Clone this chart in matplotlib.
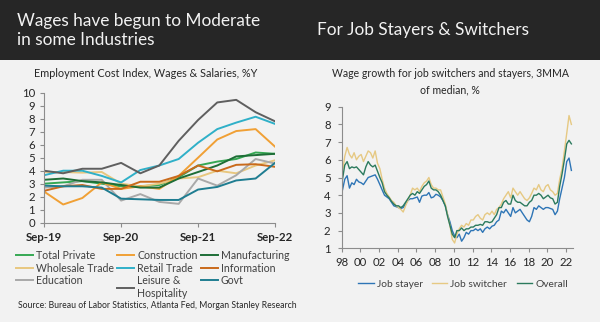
import matplotlib
matplotlib.use("Agg")
import matplotlib.pyplot as plt
import matplotlib.dates as mdates
from matplotlib.patches import Rectangle
import pandas as pd

plt.rcParams['font.family'] = ['Lato', 'DejaVu Sans']

# ECI wages & salaries, % y/y, quarterly Sep-19 .. Sep-22
eci_quarters = pd.date_range('2019-09-01', periods=13, freq='3MS')
total_private = [3.0, 3.1, 3.2, 3.0, 2.8, 2.8, 2.9, 3.5, 4.4, 4.7, 4.9, 5.4, 5.3]
construction = [2.4, 1.4, 1.9, 3.1, 2.6, 2.8, 2.6, 3.6, 5.0, 6.4, 7.05, 7.2, 5.85]
manufacturing = [3.3, 3.4, 3.2, 3.1, 2.9, 2.7, 2.7, 3.4, 3.9, 4.4, 5.1, 5.2, 5.3]
wholesale = [3.9, 3.9, 3.85, 3.9, 3.0, 2.8, 3.0, 3.4, 3.5, 4.0, 3.8, 4.4, 4.8]
retail = [3.65, 4.0, 4.0, 3.6, 3.1, 4.05, 4.4, 4.9, 6.15, 7.2, 7.7, 8.15, 7.6]
information = [2.45, 2.8, 2.9, 2.6, 2.6, 3.15, 3.15, 3.6, 4.4, 3.95, 4.45, 4.5, 4.3]
education = [2.7, 2.8, 3.3, 3.3, 1.7, 2.2, 1.6, 1.45, 3.4, 2.85, 3.65, 4.9, 4.55]
leisure = [4.0, 3.8, 4.15, 4.15, 4.6, 3.8, 4.4, 6.3, 7.9, 9.25, 9.45, 8.5, 7.8]
govt = [2.85, 2.8, 2.8, 2.7, 1.85, 1.8, 1.75, 1.75, 2.55, 2.75, 3.25, 3.4, 4.6]

# Atlanta Fed wage growth tracker, 3MMA of median, sampled quarterly
wgt_dates = pd.date_range('1998-02-01', periods=99, freq='3MS')
job_stayer = [
    4.3, 4.9, 5.1, 4.4, 4.7, 4.6, 4.9, 4.75, 4.7, 4.6, 4.8, 5.0,
    5.05, 5.1, 5.15, 4.9, 4.6, 4.3, 4.0, 3.9, 3.8, 3.6, 3.4, 3.35,
    3.3, 3.25, 3.3, 3.5, 3.7, 3.8, 3.8, 3.85, 3.9, 3.6, 3.95, 4.0,
    4.0, 4.15, 3.85, 3.9, 4.05, 4.0, 3.9, 3.7, 3.4, 2.9, 2.5, 2.0,
    1.7, 1.6, 1.8, 1.4, 1.6, 1.9, 1.8, 2.0, 2.0, 2.1, 2.0, 2.1,
    1.9, 2.1, 2.2, 2.1, 2.25, 2.3, 2.5, 2.6, 3.1, 3.0, 3.2, 3.0,
    2.8, 3.3, 3.0, 3.1, 3.2, 3.0, 2.8, 2.6, 2.5, 2.8, 3.3, 3.2,
    3.4, 3.3, 3.2, 3.3, 3.3, 3.25, 3.2, 2.9, 3.1, 3.8, 4.4, 5.0,
    5.9, 6.1, 5.4,
]
job_switcher = [
    5.3, 6.2, 6.7, 6.3, 6.1, 6.4, 6.0, 6.2, 6.3, 5.9, 6.2, 6.5,
    6.4, 6.1, 6.5, 5.8, 5.5, 4.9, 4.4, 4.1, 3.9, 3.7, 3.6, 3.4,
    3.3, 3.2, 3.05, 3.4, 3.7, 4.0, 4.4, 4.3, 4.4, 4.2, 4.5, 4.7,
    4.8, 5.0, 4.6, 4.4, 4.4, 4.3, 4.3, 3.9, 3.5, 2.9, 2.3, 1.5,
    1.3, 1.8, 2.1, 2.3, 2.2, 2.4, 2.3, 2.6, 2.6, 2.8, 2.9, 2.7,
    2.6, 2.9, 3.0, 2.9, 3.1, 2.9, 3.2, 3.3, 3.5, 3.8, 4.0, 4.2,
    3.85, 4.4, 4.2, 4.0, 4.2, 4.0, 3.8, 3.7, 3.85, 4.1, 4.4, 4.3,
    4.6, 4.3, 4.2, 4.5, 4.6, 4.3, 4.2, 4.0, 4.1, 4.9, 5.5, 6.5,
    7.5, 8.5, 8.0,
]
overall = [
    4.9, 5.7, 5.9, 5.5, 5.6, 5.55, 5.6, 5.45, 5.3, 5.15, 5.6, 5.9,
    5.7, 5.6, 5.7, 5.35, 5.0, 4.7, 4.2, 4.0, 3.85, 3.65, 3.5, 3.4,
    3.4, 3.3, 3.4, 3.6, 3.8, 4.0, 4.1, 4.0, 4.2, 4.1, 4.3, 4.5,
    4.6, 4.8, 4.4, 4.3, 4.3, 4.2, 4.0, 3.7, 3.4, 2.8, 2.3, 1.8,
    1.6, 2.0, 2.0, 2.15, 2.0, 2.1, 2.1, 2.2, 2.2, 2.3, 2.3, 2.35,
    2.3, 2.5, 2.5, 2.45, 2.5, 2.7, 2.9, 3.3, 3.3, 3.6, 3.7, 3.5,
    3.5, 4.0, 3.7, 3.6, 3.6, 3.5, 3.4, 3.4, 3.6, 3.7, 4.0, 4.0,
    4.1, 4.0, 3.8, 3.9, 4.0, 3.85, 3.8, 3.5, 3.6, 4.5, 5.2, 6.0,
    6.9, 7.1, 6.9,
]

BG = '#f2f2f2'
HEADER = '#262626'
TEXT = '#262626'
AXIS = '#8c8c8c'

fig = plt.figure(figsize=(6, 3.22), dpi=100, facecolor=BG)
fig.patches.append(Rectangle((0, 1 - 60 / 322), 1, 60 / 322, transform=fig.transFigure,
                             facecolor=HEADER, edgecolor='none', zorder=0))

title_kw = dict(color='#f2f2f2', fontsize=12.4, va='baseline')
fig.text(17 / 600, 1 - 26 / 322, 'Wages have begun to Moderate', **title_kw)
fig.text(17 / 600, 1 - 45 / 322, 'in some Industries', **title_kw)
fig.text(317 / 600, 1 - 35 / 322, 'For Job Stayers & Switchers', **title_kw)

fig.text(146 / 600, 1 - 77 / 322, 'Employment Cost Index, Wages & Salaries, %Y',
         color=TEXT, fontsize=7.8, ha='center', va='baseline')
fig.text(450 / 600, 1 - 77 / 322, 'Wage growth for job switchers and stayers, 3MMA',
         color=TEXT, fontsize=7.6, ha='center', va='baseline')
fig.text(450 / 600, 1 - 93 / 322, 'of median, %',
         color=TEXT, fontsize=7.6, ha='center', va='baseline')
fig.text(18 / 600, 1 - 308 / 322,
         'Source: Bureau of Labor Statistics, Atlanta Fed, Morgan Stanley Research',
         color=TEXT, fontsize=6.2, va='baseline')


def style_axes(ax):
    ax.set_facecolor(BG)
    for side in ('top', 'right'):
        ax.spines[side].set_visible(False)
    for side in ('left', 'bottom'):
        ax.spines[side].set_color(AXIS)
        ax.spines[side].set_linewidth(0.8)
    ax.tick_params(colors=AXIS, labelcolor=TEXT, width=0.8, length=3, direction='out')


# left panel: ECI by industry
ax1 = fig.add_axes([44 / 600, 1 - 222.7 / 322, 231 / 600, 130 / 322])
style_axes(ax1)
series = [
    ('Total Private', total_private, '#35a853'),
    ('Wholesale Trade', wholesale, '#e8c77f'),
    ('Education', education, '#a9a9a9'),
    ('Construction', construction, '#f0a035'),
    ('Retail Trade', retail, '#2fb0c8'),
    ('Leisure &\nHospitality', leisure, '#5f5f5f'),
    ('Manufacturing', manufacturing, '#1e6e37'),
    ('Information', information, '#c96a1b'),
    ('Govt', govt, '#1f7d91'),
]
handles = []
for label, values, color in series:
    h, = ax1.plot(eci_quarters, values, color=color, lw=1.4, label=label)
    handles.append(h)
ax1.set_ylim(0, 10)
ax1.set_yticks(range(0, 11))
ax1.set_xlim(eci_quarters[0], eci_quarters[-1])
ax1.set_xticks(pd.to_datetime(['2019-09-01', '2020-09-01', '2021-09-01', '2022-09-01']))
ax1.xaxis.set_major_formatter(mdates.DateFormatter('%b-%y'))
ax1.tick_params(axis='both', labelsize=8.2)
ax1.tick_params(axis='x', pad=4)
for lab in ax1.get_xticklabels():
    lab.set_fontweight('bold')

fig.legend(handles=handles, loc='upper left', bbox_to_anchor=(16 / 600, 1 - 250 / 322),
           ncol=3, frameon=False, fontsize=7.6, handlelength=1.6, handletextpad=0.3,
           columnspacing=0.3, labelspacing=0.15, borderpad=0, borderaxespad=0,
           labelcolor='#404040')

# right panel: wage growth tracker
ax2 = fig.add_axes([341.7 / 600, 1 - 248.3 / 322, 231.6 / 600, 141.6 / 322])
style_axes(ax2)
h1, = ax2.plot(wgt_dates, job_stayer, color='#2e75b6', lw=1.0, label='Job stayer')
h2, = ax2.plot(wgt_dates, job_switcher, color='#e6c983', lw=1.0, label='Job switcher')
h3, = ax2.plot(wgt_dates, overall, color='#2b7a5d', lw=1.0, label='Overall')
ax2.set_ylim(1, 9)
ax2.set_yticks(range(1, 10))
ax2.set_xlim(pd.Timestamp('1998-01-01'), pd.Timestamp('2022-10-15'))
ax2.set_xticks(pd.date_range('1998-01-01', '2022-01-01', freq='24MS'))
ax2.xaxis.set_major_formatter(mdates.DateFormatter('%y'))
ax2.tick_params(axis='both', labelsize=8.2)
ax2.tick_params(axis='y', pad=5)

fig.legend(handles=[h1, h2, h3], loc='center', bbox_to_anchor=(463 / 600, 1 - 284 / 322),
           ncol=3, frameon=False, fontsize=7.4, handlelength=1.5, handletextpad=0.3,
           columnspacing=0.9, borderpad=0, borderaxespad=0, labelcolor='#404040')

fig.savefig('out.png', dpi=100, facecolor=BG)
